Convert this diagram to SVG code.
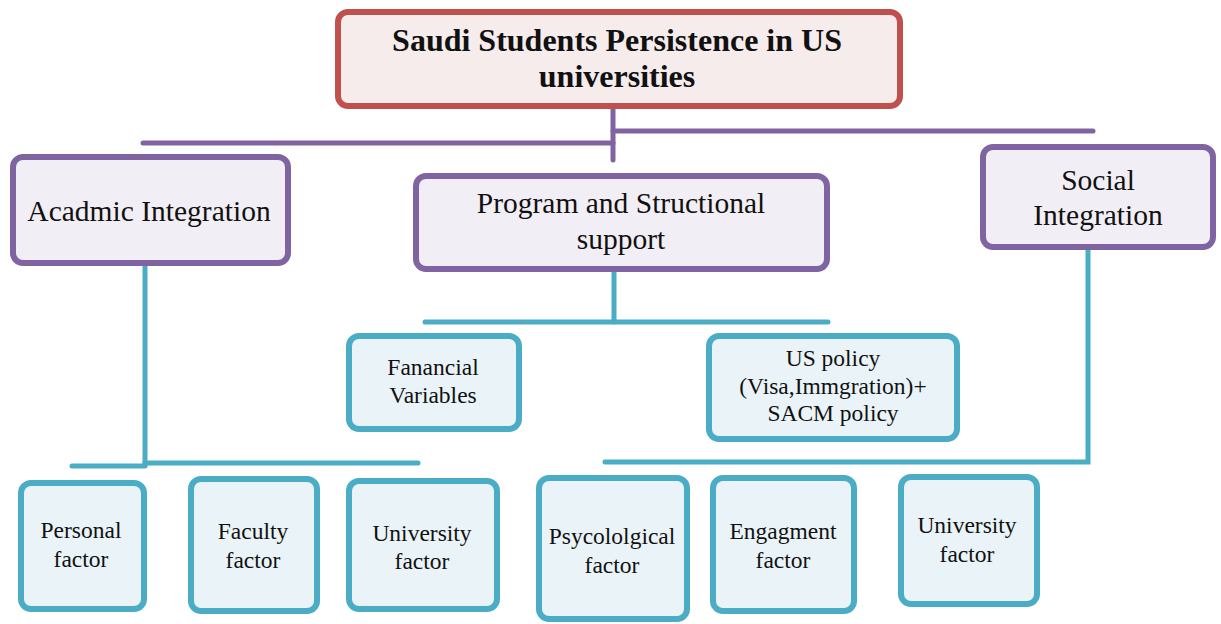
<svg xmlns="http://www.w3.org/2000/svg" width="1221" height="624" viewBox="0 0 1221 624">
  <style>
    .root { fill: #F6ECEC; stroke: #C0504D; stroke-width: 6; }
    .mid { fill: #F1EFF5; stroke: #8064A2; stroke-width: 6; }
    .leaf { fill: #EAF4F8; stroke: #4BACC6; stroke-width: 6; }
    .pl { fill: none; stroke: #8064A2; stroke-width: 5; stroke-linecap: round; }
    .tl { fill: none; stroke: #4BACC6; stroke-width: 5; stroke-linecap: round; }
    text { font-family: "Liberation Serif", "DejaVu Serif", serif; fill: #111; text-anchor: middle; }
    .t0 { font-size: 32px; font-weight: bold; }
    .t1 { font-size: 29.5px; }
    .t2 { font-size: 23.5px; }
  </style>

  <!-- connectors -->
  <g id="connectors">
    <path class="pl" d="M613 108 V160"/>
    <path class="pl" d="M143 143 H613"/>
    <path class="pl" d="M613 131 H1093"/>
    <path class="tl" d="M145 265 V465"/>
    <path class="tl" d="M72 466 H145"/>
    <path class="tl" d="M145 463 H418"/>
    <path class="tl" d="M614 270 V322"/>
    <path class="tl" d="M425 322 H828"/>
    <path class="tl" d="M1088 248 V462 H605"/>
  </g>

  <!-- top node -->
  <g id="root">
    <rect class="root" x="338" y="12" width="562" height="94" rx="10"/>
    <text class="t0" x="617" y="51">Saudi Students Persistence in US</text>
    <text class="t0" x="617" y="87">universities</text>
  </g>

  <!-- second level -->
  <g id="academic">
    <rect class="mid" x="13" y="157" width="275" height="106" rx="10"/>
    <text class="t1" x="149" y="221">Acadmic Integration</text>
  </g>
  <g id="program">
    <rect class="mid" x="416" y="176" width="411" height="93" rx="10"/>
    <text class="t1" x="621" y="213">Program and Structional</text>
    <text class="t1" x="621" y="249">support</text>
  </g>
  <g id="social">
    <rect class="mid" x="983" y="147" width="230" height="100" rx="10"/>
    <text class="t1" x="1098" y="190">Social</text>
    <text class="t1" x="1098" y="225">Integration</text>
  </g>

  <!-- program children -->
  <g id="financial">
    <rect class="leaf" x="349" y="336" width="170" height="93" rx="10"/>
    <text class="t2" x="433" y="375">Fanancial</text>
    <text class="t2" x="433" y="403">Variables</text>
  </g>
  <g id="policy">
    <rect class="leaf" x="709" y="336" width="248" height="103" rx="10"/>
    <text class="t2" x="833" y="366">US policy</text>
    <text class="t2" x="833" y="394">(Visa,Immgration)+</text>
    <text class="t2" x="833" y="421">SACM policy</text>
  </g>

  <!-- academic children -->
  <g id="personal">
    <rect class="leaf" x="21" y="483" width="123" height="126" rx="10"/>
    <text class="t2" x="81" y="538">Personal</text>
    <text class="t2" x="81" y="567">factor</text>
  </g>
  <g id="faculty">
    <rect class="leaf" x="191" y="479" width="126" height="132" rx="10"/>
    <text class="t2" x="253" y="539">Faculty</text>
    <text class="t2" x="253" y="568">factor</text>
  </g>
  <g id="university1">
    <rect class="leaf" x="349" y="481" width="148" height="128" rx="10"/>
    <text class="t2" x="422" y="541">University</text>
    <text class="t2" x="422" y="569">factor</text>
  </g>

  <!-- social children -->
  <g id="psychological">
    <rect class="leaf" x="539" y="478" width="148" height="141" rx="10"/>
    <text class="t2" x="612" y="544">Psycololgical</text>
    <text class="t2" x="612" y="573">factor</text>
  </g>
  <g id="engagement">
    <rect class="leaf" x="713" y="478" width="141" height="133" rx="10"/>
    <text class="t2" x="783" y="539">Engagment</text>
    <text class="t2" x="783" y="568">factor</text>
  </g>
  <g id="university2">
    <rect class="leaf" x="901" y="477" width="136" height="127" rx="10"/>
    <text class="t2" x="967" y="533">University</text>
    <text class="t2" x="967" y="562">factor</text>
  </g>
</svg>
